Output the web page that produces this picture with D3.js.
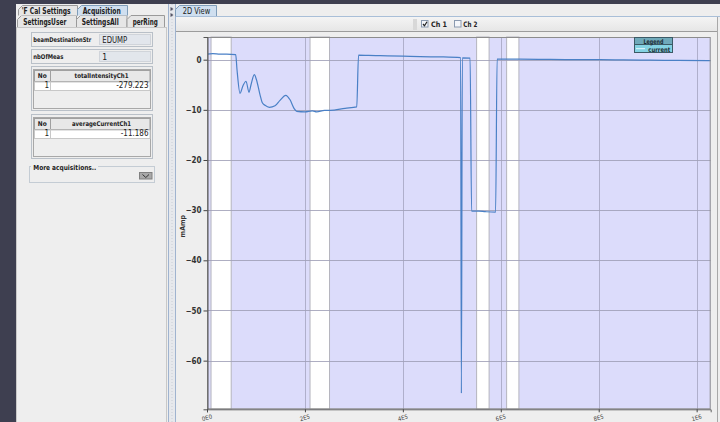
<!DOCTYPE html>
<html><head><meta charset="utf-8">
<script src="https://cdn.jsdelivr.net/npm/d3@7"></script>
<style>
body{margin:0;background:#3e3f50;overflow:hidden}
svg{display:block;font-family:"DejaVu Sans Condensed","DejaVu Sans",sans-serif}
</style></head><body>
<svg id="c" width="720" height="422"></svg>
<script>
// ---------- data ----------
const sampleX = [0, 12e3, 26.6e3, 40e3, 58.6e3, 61.3e3, 67.4e3, 73.5e3, 79.7e3, 85.8e3, 89.9e3, 96.6e3, 101e3, 108.3e3, 113e3,
  118.5e3, 127.5e3, 138.9e3, 149.1e3, 160.8e3, 169.6e3, 177.7e3, 183.3e3, 200.2e3, 215e3, 224.1e3, 240e3, 251.3e3,
  282e3, 305.8e3, 309.5e3, 330e3, 353.4e3, 400e3, 435.2e3, 480e3, 517.9e3, 519.5e3, 521.5e3, 537.3e3, 540.4e3,
  555e3, 568e3, 589.4e3, 592.5e3, 640e3, 700.7e3, 760e3, 802.9e3, 850e3, 905e3, 960e3, 1028.7e3];
const current = [1.1, 1.2, 1.1, 1.1, 1.0, -2.0, -6.7, -5.2, -4.3, -6.5, -5.0, -3.0, -4.0, -7.0, -8.6,
  -9.1, -9.5, -9.2, -8.1, -7.1, -8.0, -9.7, -10.3, -10.4, -10.2, -10.4, -10.1, -10.1,
  -9.7, -9.4, 0.9, 0.85, 0.8, 0.7, 0.6, 0.55, 0.4, -66.5, 0.35, 0.3, -30.2,
  -30.2, -30.3, -30.4, 0.1, 0.1, 0.05, 0.0, 0.0, -0.05, -0.1, -0.15, -0.2];
const gapStart = [7.2e3, 209.4e3, 549.6e3, 610.9e3];
const gapEnd   = [48.4e3, 249.2e3, 575.1e3, 636e3];
const xTickValues = [0, 2e5, 4e5, 6e5, 8e5, 1e6];
const xTickLabels = ["0E0", "2E5", "4E5", "6E5", "8E5", "1E6"];
const yTickValues = [0, -10, -20, -30, -40, -50, -60];
const yLabel = "mAmp";
const seriesName = "current";
const legendTitle = "Legend";
const channels = ["Ch 1", "Ch 2"];
const channelOn = [true, false];
const tabsRow1 = ["'F Cal Settings", "Acquisition"];
const tabsRow2 = ["SettingsUser", "SettingsAll", "perRing"];
const fieldNames = ["beamDestinationStr", "nbOfMeas"];
const fieldValues = ["EDUMP", "1"];
const tableHeaders = ["totalIntensityCh1", "averageCurrentCh1"];
const tableValues = ["-279.223", "-11.186"];
const moreLabel = "More acquisitions..";
const viewTab = "2D View";

// ---------- drawing ----------
const svg = d3.select("#c");
svg.append("rect").attr("width", 720).attr("height", 422).attr("fill", "#3e3f50");
svg.append("rect").attr("x", 16).attr("y", 4).attr("width", 704).attr("height", 418).attr("fill", "#eeeeee");

function txt(g, s, x, y, opt) {
  const t = g.append("text").attr("x", x).attr("y", y).text(s)
    .attr("font-size", opt.size || 8).attr("fill", opt.fill || "#222")
    .attr("font-weight", opt.bold ? "bold" : "normal")
    .attr("text-anchor", opt.anchor || "start");
  if (opt.w) t.attr("textLength", opt.w).attr("lengthAdjust", "spacingAndGlyphs");
  return t;
}
function tab(g, x0, x1, yt, yb, sel) {
  g.append("path").attr("d", `M${x0},${yb} L${x0},${yt + 4} L${x0 + 4},${yt} L${x1},${yt} L${x1},${yb}`)
    .attr("fill", sel ? "#cfdff0" : "#e6e6e6").attr("stroke", sel ? "#7f9db9" : "#9a9a9a").attr("stroke-width", 1);
}
const L = svg.append("g");
const r2 = [[17.5, 76.5], [76.5, 127], [127, 164.5]];
const r2w = [43, 37, 25], r2x = [23.3, 81.7, 132.7];
tabsRow2.forEach((s, i) => { tab(L, r2[i][0], r2[i][1], 15.5, 27.5, false); txt(L, s, r2x[i], 24.5, {bold: true, size: 8, w: r2w[i]}); });
const r1 = [[18.5, 77.5], [77.5, 127.5]];
const r1w = [49, 38], r1x = [21.7, 82.7];
tabsRow1.forEach((s, i) => { tab(L, r1[i][0], r1[i][1], 5.5, 15.5, i === 1); txt(L, s, r1x[i], 14, {bold: true, size: 8, w: r1w[i], fill: "#222"}); });
L.append("rect").attr("x", 16.5).attr("y", 27.5).attr("width", 150).attr("height", 400).attr("fill", "#eeeeee").attr("stroke", "#c8c8c8");
const fy = [32.5, 49.5];
fieldNames.forEach((s, i) => {
  L.append("rect").attr("x", 31.5).attr("y", fy[i]).attr("width", 121).attr("height", 14).attr("fill", "#eeeeee").attr("stroke", "#b9c0c8");
  L.append("rect").attr("x", 99.5).attr("y", fy[i] + 2).attr("width", 51).attr("height", 10).attr("fill", "#e2e6ec").attr("stroke", "#d0d4da");
  txt(L, s, 33.3, fy[i] + 9.5, {bold: true, size: 6.5, w: i === 0 ? 58 : 30});
  txt(L, fieldValues[i], 102.3, fy[i] + 10.5, {size: 8.5, w: i === 0 ? 25 : null, fill: "#222"});
});
const ty = [66.5, 114.5];
const thw = [54, 59];
tableHeaders.forEach((s, i) => {
  const y0 = ty[i];
  L.append("rect").attr("x", 31.5).attr("y", y0).attr("width", 121).attr("height", 44).attr("fill", "#eeeeee").attr("stroke", "#b9c0c8");
  L.append("rect").attr("x", 33.5).attr("y", y0 + 3).attr("width", 117).attr("height", 39).attr("fill", "#eeeeee").attr("stroke", "#a8a8a8");
  L.append("rect").attr("x", 34.5).attr("y", y0 + 4).attr("width", 16).attr("height", 11).attr("fill", "#e8e8e8").attr("stroke", "#a0a0a0");
  L.append("rect").attr("x", 50.5).attr("y", y0 + 4).attr("width", 99.5).attr("height", 11).attr("fill", "#e8e8e8").attr("stroke", "#a0a0a0");
  L.append("rect").attr("x", 34.5).attr("y", y0 + 15.5).attr("width", 16).attr("height", 8.5).attr("fill", "#fff").attr("stroke", "#c8c8c8");
  L.append("rect").attr("x", 50.5).attr("y", y0 + 15.5).attr("width", 99.5).attr("height", 8.5).attr("fill", "#fff").attr("stroke", "#c8c8c8");
  txt(L, "No", 42.3, y0 + 11, {bold: true, size: 6.5, anchor: "middle"});
  txt(L, s, 101.5, y0 + 11, {bold: true, size: 6.5, anchor: "middle", w: thw[i]});
  txt(L, "1", 49, y0 + 21.5, {size: 8, anchor: "end"});
  txt(L, tableValues[i], 148.5, y0 + 21.5, {size: 8, anchor: "end"});
});
L.append("rect").attr("x", 29.5).attr("y", 166.5).attr("width", 125).attr("height", 16).attr("fill", "none").attr("stroke", "#c4ccd4");
L.append("rect").attr("x", 31).attr("y", 163).attr("width", 67).attr("height", 8).attr("fill", "#eeeeee");
txt(L, moreLabel, 33.3, 170, {bold: true, size: 7, w: 63});
L.append("rect").attr("x", 139.5).attr("y", 172.5).attr("width", 12.5).attr("height", 6.5).attr("fill", "#a8a8a8").attr("stroke", "#808080");
L.append("path").attr("d", "M142.5,174.5 L145.8,177.5 L149,174.5").attr("fill", "none").attr("stroke", "#333").attr("stroke-width", 1);
L.append("rect").attr("x", 168).attr("y", 4).attr("width", 7).attr("height", 418).attr("fill", "#e6e8ec");
L.append("line").attr("x1", 168.5).attr("x2", 168.5).attr("y1", 4).attr("y2", 422).attr("stroke", "#9fb3cf");
L.append("line").attr("x1", 175.5).attr("x2", 175.5).attr("y1", 4).attr("y2", 422).attr("stroke", "#9fb3cf");
L.append("line").attr("x1", 172).attr("x2", 172).attr("y1", 4).attr("y2", 422).attr("stroke", "#c9ced6").attr("stroke-dasharray", "1,2");
L.append("path").attr("d", "M170.5,7 L173.5,9 L170.5,11 Z M170.5,13 L173.5,15 L170.5,17 Z").attr("fill", "#556");

const R = svg.append("g");
tab(R, 175.5, 216.5, 5.5, 16.5, true);
txt(R, viewTab, 182.7, 13.8, {size: 8, w: 27.5});
R.append("line").attr("x1", 176).attr("x2", 720).attr("y1", 16.5).attr("y2", 16.5).attr("stroke", "#a9bfd8");
const grad = svg.append("defs").append("linearGradient").attr("id", "tb").attr("x1", 0).attr("x2", 0).attr("y1", 0).attr("y2", 1);
grad.append("stop").attr("offset", 0).attr("stop-color", "#f4f4f4");
grad.append("stop").attr("offset", 1).attr("stop-color", "#e6e6e6");
R.append("rect").attr("x", 176).attr("y", 17).attr("width", 541).attr("height", 14).attr("fill", "url(#tb)");
R.append("line").attr("x1", 176).attr("x2", 717).attr("y1", 31.5).attr("y2", 31.5).attr("stroke", "#9c9c9c");
R.append("rect").attr("x", 413).attr("y", 19).attr("width", 4).attr("height", 11).attr("fill", "#d8d8d8");
const cbx = [421.5, 454.5], ctx = [431, 463.3], cw = [16, 14];
channels.forEach((s, i) => {
  R.append("rect").attr("x", cbx[i]).attr("y", 20.5).attr("width", 6.5).attr("height", 6.5).attr("fill", "#f4f6fa").attr("stroke", "#8a9ab0");
  if (channelOn[i]) R.append("path").attr("d", `M${cbx[i] + 1.5},${24} L${cbx[i] + 3},${25.8} L${cbx[i] + 5.5},${21.8}`).attr("fill", "none").attr("stroke", "#222").attr("stroke-width", 1.2);
  txt(R, s, ctx[i], 27, {bold: true, size: 7.5, w: cw[i]});
});
R.append("line").attr("x1", 717.5).attr("x2", 717.5).attr("y1", 17).attr("y2", 422).attr("stroke", "#a8a8a8");

// ---------- chart ----------
const pl = 207, pr = 710.7, pt = 37, pb = 409.3;
const x = d3.scaleLinear().domain([0, 1028.7e3]).range([pl, pr]);
const y = d3.scaleLinear().domain([-69.7, 4.52]).range([pb, pt]);
const C = svg.append("g");
C.append("rect").attr("x", pl).attr("y", pt).attr("width", pr - pl).attr("height", pb - pt).attr("fill", "#dcdcfb");
C.selectAll("rect.gap").data(gapStart.map((s, i) => [s, gapEnd[i]])).join("rect").attr("class", "gap")
  .attr("x", d => x(d[0]) + 0.5).attr("y", pt).attr("width", d => x(d[1]) - x(d[0])).attr("height", pb - pt)
  .attr("fill", "#ffffff").attr("stroke", "#b4b4be").attr("stroke-width", 1);
C.selectAll("line.gx").data(xTickValues).join("line").attr("class", "gx")
  .attr("x1", d => Math.round(x(d)) + 0.5).attr("x2", d => Math.round(x(d)) + 0.5).attr("y1", pt).attr("y2", pb)
  .attr("stroke", "#a4a4c0").attr("stroke-width", 1).attr("opacity", 0.8);
C.selectAll("line.gy").data(yTickValues).join("line").attr("class", "gy")
  .attr("x1", pl).attr("x2", pr).attr("y1", d => Math.round(y(d)) + 0.5).attr("y2", d => Math.round(y(d)) + 0.5)
  .attr("stroke", "#a0a0b8").attr("stroke-width", 1).attr("opacity", 0.85);
svg.append("clipPath").attr("id", "pc").append("rect").attr("x", pl).attr("y", pt).attr("width", pr - pl).attr("height", pb - pt);
const pts = sampleX.map((v, i) => [v, current[i]]);
C.append("path").datum(pts).attr("clip-path", "url(#pc)")
  .attr("d", d3.line().x(d => x(d[0])).y(d => y(d[1])).curve(d3.curveMonotoneX))
  .attr("fill", "none").attr("stroke", "#4a80c6").attr("stroke-width", 1.2).attr("stroke-linejoin", "round");
C.append("rect").attr("x", pl + 0.5).attr("y", pt + 0.5).attr("width", pr - pl - 1).attr("height", pb - pt - 1)
  .attr("fill", "none").attr("stroke", "#8c8c8c");
const yAx = C.append("g").attr("transform", `translate(${pl + 0.5},0)`)
  .call(d3.axisLeft(y).tickValues(yTickValues).tickSize(4).tickPadding(2).tickFormat(d3.format("d")));
yAx.select(".domain").attr("stroke", "#555");
yAx.selectAll(".tick line").attr("stroke", "#444");
yAx.selectAll(".tick text").attr("font-size", 8).attr("font-weight", "bold").attr("fill", "#333")
  .attr("font-family", "DejaVu Sans Condensed, DejaVu Sans, sans-serif");
const xAx = C.append("g").attr("transform", `translate(0,${pb})`)
  .call(d3.axisBottom(x).tickValues(xTickValues).tickSize(3).tickFormat((d, i) => xTickLabels[i]));
xAx.select(".domain").attr("stroke", "#666");
xAx.selectAll(".tick line").attr("stroke", "#444");
xAx.selectAll(".tick text").attr("font-size", 6).attr("fill", "#444").attr("dy", 0).attr("y", 0)
  .attr("transform", "translate(0,10.5) rotate(-15)").attr("text-anchor", "middle")
  .attr("font-family", "DejaVu Sans Condensed, DejaVu Sans, sans-serif");
C.append("text").attr("transform", `translate(185,${(pt + pb) / 2 + 3}) rotate(-90)`).attr("text-anchor", "middle")
  .attr("font-size", 7).attr("font-weight", "bold").attr("fill", "#333").text(yLabel);
const lg = C.append("g");
const lx0 = 634.5, lx1 = 672.5;
lg.append("rect").attr("x", lx0).attr("y", 37.5).attr("width", lx1 - lx0).attr("height", 7).attr("fill", "#6fa9ba").attr("stroke", "#3c5a66");
lg.append("rect").attr("x", lx0).attr("y", 44.5).attr("width", lx1 - lx0).attr("height", 8).attr("fill", "#84d2e2").attr("stroke", "#3c5a66");
txt(lg, legendTitle, 653.5, 43.7, {bold: true, size: 6.5, anchor: "middle", w: 20, fill: "#1c2c34"});
lg.append("line").attr("x1", 636).attr("x2", 645).attr("y1", 48.7).attr("y2", 48.7).attr("stroke", "#e8f8ff").attr("stroke-width", 1);
txt(lg, seriesName, 648.3, 51.5, {bold: true, size: 6.5, w: 22, fill: "#1c2c34"});
</script>
</body></html>
